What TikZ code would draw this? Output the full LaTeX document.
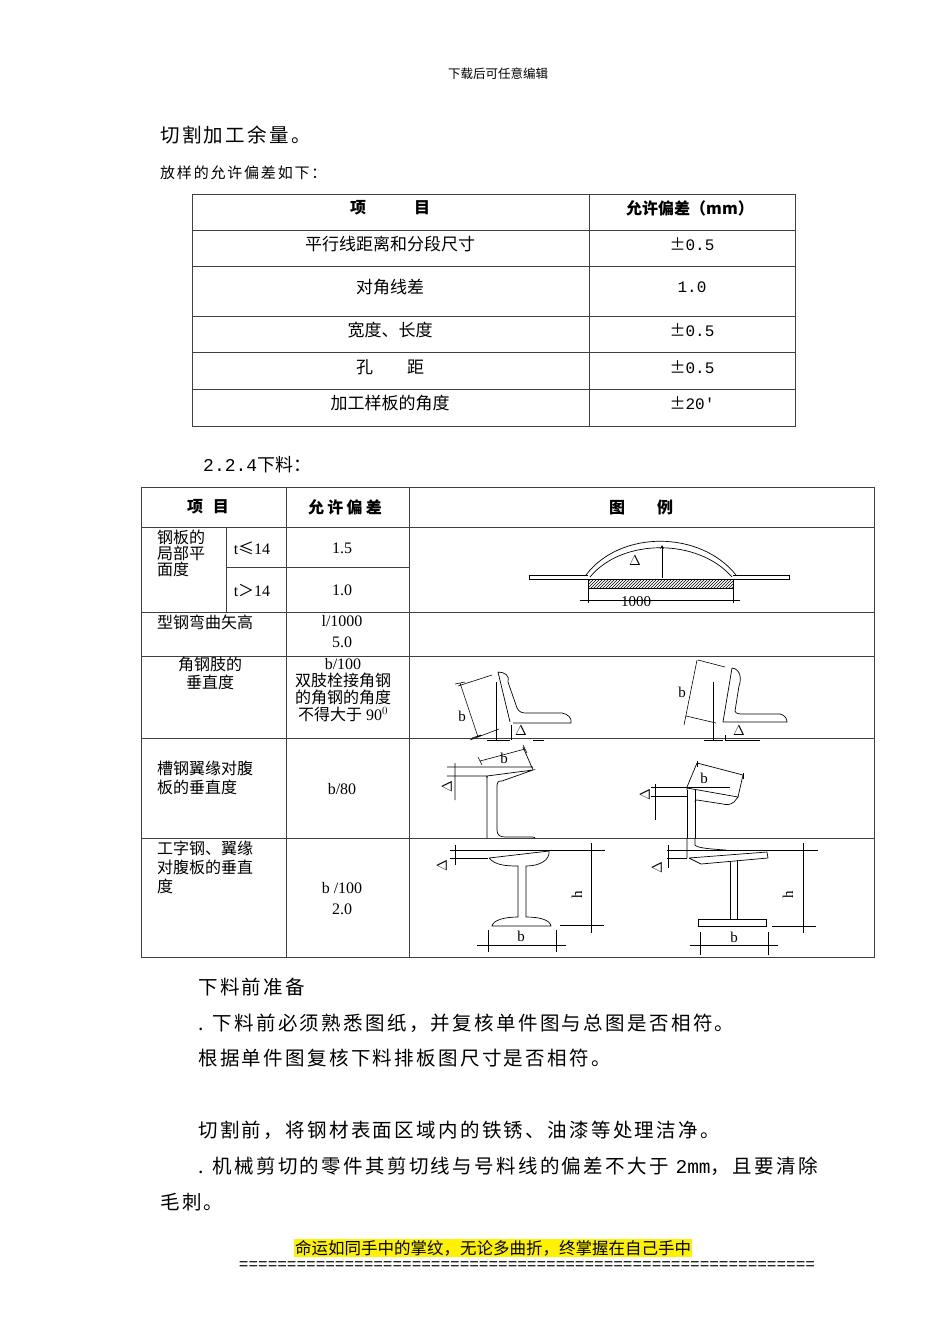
\documentclass[tikz,border=0pt]{standalone}
\usepackage{fontspec}
\setmainfont{Liberation Serif}
\newfontfamily\cjk{Noto Sans CJK SC}
\newfontfamily\cjkb[LetterSpace=12]{Noto Sans CJK SC}
\newfontfamily\mono{Liberation Mono}
\usetikzlibrary{patterns}
\begin{document}
\begin{tikzpicture}[x=1pt,y=-1pt,
  grid/.style={line width=0.8pt,draw=black!75},
  fig/.style={line width=0.7pt},
  txt/.style={inner sep=0pt,font=\fontsize{17}{19}\selectfont\cjk},
  num/.style={inner sep=0pt,font=\fontsize{16}{19}\selectfont\mono},
  body/.style={inner sep=0pt,anchor=west,font=\fontsize{19.5}{22}\selectfont\cjkb},
  tk/.style={line width=0.6pt}]
\useasboundingbox (0,0) rectangle (950,1344);
\node[inner sep=0pt,font=\fontsize{12.5}{14}\selectfont\cjk] (hd) at (498,74) {下载后可任意编辑};
\node[body] (t1) at (160,135) {切割加工余量。};
\node[body,font=\fontsize{15}{17}\selectfont\cjkb] (t2) at (160,173) {放样的允许偏差如下：};
% table 1
\draw[grid] (192,194) rectangle (795,426);
\foreach \y in {230,266,316,352,389} \draw[grid] (192,\y) -- (795,\y);
\draw[grid] (589,194) -- (589,426);
\node[txt,font=\fontsize{16}{18}\selectfont\cjk\bfseries] (h1) at (390,208) {项\hspace{3em}目};
\node[txt,font=\fontsize{16}{18}\selectfont\cjk\bfseries] (h2) at (690,208) {允许偏差（mm）};
\node[txt] (a1) at (390,244) {平行线距离和分段尺寸};
\node[num] (b1) at (692,244) {{\cjk ±}0.5};
\node[txt] (a2) at (390,287) {对角线差};
\node[num] (b2) at (692,287) {1.0};
\node[txt] (a3) at (390,330) {宽度、长度};
\node[num] (b3) at (692,330) {{\cjk ±}0.5};
\node[txt] (a4) at (390,367) {孔\hspace{2em}距};
\node[num] (b4) at (692,367) {{\cjk ±}0.5};
\node[txt] (a5) at (390,403) {加工样板的角度};
\node[num] (b5) at (692,403) {{\cjk ±}20′};
\node[body,font=\fontsize{18}{20}\selectfont\mono] (s224) at (203,465) {2.2.4{\cjk 下料：}};
% table 2
\draw[grid] (141,487) rectangle (874,957);
\foreach \y in {527,612,656,738,838} \draw[grid] (141,\y) -- (874,\y);
\draw[grid] (226,567) -- (409,567);
\draw[grid] (226,527) -- (226,612);
\draw[grid] (286,487) -- (286,957);
\draw[grid] (409,487) -- (409,957);
\node[txt,font=\fontsize{16}{18}\selectfont\cjk\bfseries] (g1) at (208,507) {项\hspace{0.6em}目};
\node[txt,font=\fontsize{16}{18}\selectfont\cjk\bfseries] (g2) at (345,507) {允\hspace{0.2em}许\hspace{0.2em}偏\hspace{0.2em}差};
\node[txt,font=\fontsize{16}{18}\selectfont\cjk\bfseries] (g3) at (641,507) {图\hspace{2em}例};
\node[txt,anchor=north west,align=left,font=\fontsize{16}{16}\selectfont\cjk] (c1) at (157,530) {钢板的\\局部平\\面度};
\node[txt,font=\fontsize{16}{18}\selectfont] (c2) at (252,548) {t{\cjk ≤}14};
\node[txt,font=\fontsize{16}{18}\selectfont] (c3) at (252,590) {t{\cjk ＞}14};
\node[txt,font=\fontsize{16}{18}\selectfont] (d1) at (342,548) {1.5};
\node[txt,font=\fontsize{16}{18}\selectfont] (d2) at (342,590) {1.0};
\node[txt,anchor=north west,font=\fontsize{16}{18}\selectfont\cjk] (c4) at (157,615) {型钢弯曲矢高};
\node[txt,align=center,anchor=north,font=\fontsize{16}{21}\selectfont] (d3) at (342,615) {l/1000\\5.0};
\node[txt,align=center,anchor=north,font=\fontsize{16}{18}\selectfont\cjk] (c5) at (210,657) {角钢肢的\\垂直度};
\node[txt,align=center,anchor=north,font=\fontsize{16}{17}\selectfont] (d4) at (343,658) {b/100\\{\cjk 双肢栓接角钢}\\{\cjk 的角钢的角度}\\{\cjk 不得大于} 90$^0$};
\node[txt,anchor=north west,align=left,font=\fontsize{16}{19}\selectfont\cjk] (c6) at (157,761) {槽钢翼缘对腹\\板的垂直度};
\node[txt,font=\fontsize{16}{18}\selectfont] (d5) at (342,789) {b/80};
\node[txt,anchor=north west,align=left,font=\fontsize{16}{19}\selectfont\cjk] (c7) at (157,841) {工字钢、翼缘\\对腹板的垂直\\度};
\node[txt,align=center,font=\fontsize{16}{21}\selectfont] (d6) at (342,899) {b /100\\2.0};
% flatness figure
\draw[fig] (529,575) -- (588,575) (733,575) -- (789,575) (789,575) -- (789,579) -- (733,579) (529,575) -- (529,579) -- (588,579);
\draw[fig] (586,575) .. controls (620,530) and (700,530) .. (736,575);
\draw[fig] (590,577) .. controls (622,538) and (698,538) .. (732,577);
\draw[fig,pattern=north east lines] (588,579) rectangle (733,588);
\draw[fig] (588,588) -- (588,603) (733,588) -- (733,603) (580,600) -- (740,600);
\draw[fig,->,>=stealth] (662,578) -- (662,545);
\node[inner sep=0pt,font=\fontsize{15}{17}\selectfont] (dl) at (635,561) {$\Delta$};
\node[inner sep=0pt,font=\fontsize{15}{17}\selectfont] (k1) at (636,602) {1000};
% angle 1
\draw[fig] (498,672) .. controls (505,672) and (510,676) .. (508,682) -- (517,708) .. controls (519,712) and (522,713) .. (526,713) -- (562,713) .. controls (568,714) and (572,718) .. (571,723) -- (513,723) (498,672) -- (510,722);
\draw[fig] (496,682) -- (496,740);
\draw[tk] (460,683) -- (478,737) (458,686) -- (492,675) (470,740) -- (499,729) (455,684) -- (465,682) (472,738) -- (481,735);
\node[inner sep=0pt,font=\fontsize{15}{17}\selectfont] (b1l) at (462,716) {b};
\draw[fig] (487,740) -- (510,740) (533,740) -- (544,740) (511,725) -- (511,740);
\node[inner sep=0pt,font=\fontsize{14}{16}\selectfont] (dl2) at (521,731) {$\Delta$};
% angle 2
\draw[fig] (732,668) .. controls (740,669) and (742,678) .. (739,686) -- (735,711) .. controls (736,714) and (739,714) .. (744,714) -- (780,714) .. controls (785,715) and (787,719) .. (787,722) -- (723,722) (732,668) -- (723,722);
\draw[fig] (713,682) -- (713,741);
\draw[tk] (697,660) -- (684,725) (698,660) -- (725,667) (686,716) -- (716,723);
\node[inner sep=0pt,font=\fontsize{15}{17}\selectfont] (b2l) at (682,692) {b};
\draw[fig] (704,740) -- (723,740) (725,740) -- (760,740) (725,735) -- (725,741);
\node[inner sep=0pt,font=\fontsize{14}{16}\selectfont] (dl3) at (739,731) {$\Delta$};
% channel 1
\draw[fig] (487,776) -- (487,838) (497,785) -- (497,830) .. controls (497,835) and (500,837) .. (505,837) -- (532,837) .. controls (535,837) and (535,838) .. (535,838);
\draw[fig] (497,785) .. controls (497,782) and (498,781) .. (502,781) -- (533,770) -- (487,776) -- (487,778);
\draw[fig] (533,770) -- (523,747) (485,767) -- (533,767) (447,776) -- (487,776) (447,767) -- (487,767);
\draw[tk] (455,763) -- (455,800) (480,761) -- (525,749) (478,757) -- (482,765) (523,745) -- (527,753);
\node[inner sep=0pt,font=\fontsize{15}{17}\selectfont] (b3l) at (504,758) {b};
\node[inner sep=0pt,rotate=90,font=\fontsize{14}{16}\selectfont] (dl4) at (447,787) {$\Delta$};
% channel 2
\draw[fig] (687,790) -- (687,838) (695,790) -- (695,838);
\draw[fig] (687,790) -- (687,788) -- (738,797) -- (734,802) .. controls (730,805) and (726,805) .. (723,804) -- (697,800) .. controls (695,800) and (695,801) .. (695,802);
\draw[fig] (738,797) -- (743,775) (697,763) -- (743,775) (697,763) -- (687,787);
\draw[fig] (651,787) -- (730,787) (651,796) -- (687,796);
\draw[tk] (655,784) -- (655,820) (697,761) -- (697,767) (743,773) -- (743,779);
\node[inner sep=0pt,font=\fontsize{15}{17}\selectfont] (b4l) at (704,778) {b};
\node[inner sep=0pt,rotate=90,font=\fontsize{14}{16}\selectfont] (dl5) at (645,795) {$\Delta$};
% I-beam 1
\draw[fig] (450,850) -- (605,850) (450,858) -- (488,858);
\draw[fig] (489,858) .. controls (495,865) and (505,866) .. (518,866) -- (518,917) .. controls (505,917) and (493,920) .. (492,926) -- (551,926) .. controls (550,920) and (540,917) .. (526,917) -- (526,866) .. controls (540,866) and (550,860) .. (549,851) -- (489,858);
\draw[tk] (455,845) -- (455,865) (591,843) -- (591,933) (560,925) -- (604,925) (488,930) -- (488,952) (556,930) -- (556,952) (477,945) -- (566,945);
\node[inner sep=0pt,rotate=90,font=\fontsize{15}{17}\selectfont] (h1l) at (577,895) {h};
\node[inner sep=0pt,font=\fontsize{15}{17}\selectfont] (b5l) at (521,936) {b};
\node[inner sep=0pt,rotate=90,font=\fontsize{14}{16}\selectfont] (dl6) at (442,866) {$\Delta$};
% I-beam 2
\draw[fig] (687,838) -- (687,858) (695,838) -- (695,845) .. controls (697,848) and (710,849) .. (726,850);
\draw[fig] (667,850) -- (818,850) (667,858) -- (687,858);
\draw[fig] (689,858) -- (767,852) -- (768,858) -- (701,864) -- (689,858);
\draw[fig] (730,861) -- (730,919) (737,860) -- (737,919);
\draw[fig] (698,919) rectangle (766,926);
\draw[tk] (668,845) -- (668,868) (803,843) -- (803,933) (772,926) -- (816,926) (700,932) -- (700,955) (768,932) -- (768,955) (690,945) -- (778,945);
\node[inner sep=0pt,rotate=90,font=\fontsize{15}{17}\selectfont] (h2l) at (788,895) {h};
\node[inner sep=0pt,font=\fontsize{15}{17}\selectfont] (b6l) at (734,937) {b};
\node[inner sep=0pt,rotate=90,font=\fontsize{14}{16}\selectfont] (dl7) at (657,868) {$\Delta$};
% body text
\node[body] (p1) at (198,987) {下料前准备};
\node[body] (p2) at (198,1023) {. 下料前必须熟悉图纸，并复核单件图与总图是否相符。};
\node[body] (p3) at (198,1058) {根据单件图复核下料排板图尺寸是否相符。};
\node[body] (p4) at (198,1130) {切割前，将钢材表面区域内的铁锈、油漆等处理洁净。};
\node[body] (p5) at (198,1166) {. 机械剪切的零件其剪切线与号料线的偏差不大于 {\mono 2mm}，且要清除};
\node[body] (p6) at (160,1202) {毛刺。};
\node[fill=yellow,inner sep=1pt,font=\fontsize{16.5}{18}\selectfont\cjk] (ft) at (493,1248) {命运如同手中的掌纹，无论多曲折，终掌握在自己手中};
\node[inner sep=0pt,font=\fontsize{16}{17}\selectfont\mono] (eq) at (527,1266) {============================================================};
\end{tikzpicture}
\end{document}
